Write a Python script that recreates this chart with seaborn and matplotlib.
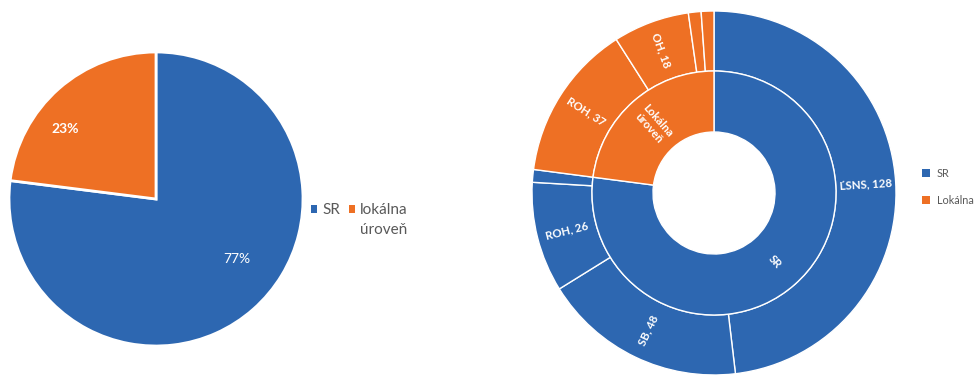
import matplotlib
matplotlib.use("Agg")
import matplotlib.pyplot as plt
from matplotlib.patches import Patch
import seaborn as sns
import numpy as np

# Share by level (percent)
level_names = ["SR", "lokálna\núroveň"]
level_share = [77, 23]

# Sunburst: inner ring = level, outer ring = party breakdown
parent_names = ["SR", "Lokálna\núroveň"]
legend_names = ["SR", "Lokálna"]
child_names = ["ĽSNS", "SB", "ROH", "", "ROH", "OH", "", ""]
child_values = [128, 48, 26, 3, 37, 18, 3, 3]
child_parent = [0, 0, 0, 0, 1, 1, 1, 1]

sns.set_theme(style="white")
plt.rcParams["font.family"] = ["Lato", "DejaVu Sans"]

palette = sns.color_palette(["#2D67B1", "#EE7024"])
text_grey = "#595959"

fig = plt.figure(figsize=(9.79, 3.75), dpi=100)
ax = fig.add_axes([0, 0, 1, 1])

# ---- left pie ----
pie_center = (156, 176)
pie_radius = 147
wedges_l, _ = ax.pie(level_share, colors=palette, startangle=90, counterclock=False,
                     center=pie_center, radius=pie_radius,
                     wedgeprops=dict(edgecolor="white", linewidth=2))
pct_offsets = [(81, -60), (-91, 70)]
pct_weights = ["normal", "bold"]
total_share = sum(level_share)
for v, off, w in zip(level_share, pct_offsets, pct_weights):
    ax.text(pie_center[0] + off[0], pie_center[1] + off[1], f"{v / total_share:.0%}",
            ha="center", va="center", color="white", fontsize=10, fontweight=w)

# legend: first line of each label in the legend, the rest wrapped beneath it
first_lines = [n.split("\n")[0] for n in level_names]
handles_l = [Patch(facecolor=w.get_facecolor(), edgecolor="none") for w in wedges_l]
leg1 = ax.legend(handles_l, first_lines, loc="center left", ncol=2,
                 bbox_to_anchor=(311, 165), bbox_transform=ax.transData,
                 frameon=False, fontsize=11, handlelength=0.42, handleheight=0.42,
                 handletextpad=0.33, columnspacing=0.55, borderpad=0, borderaxespad=0,
                 labelcolor=text_grey)
ax.add_artist(leg1)
for name, txt in zip(level_names, leg1.get_texts()):
    rest = name.split("\n")[1:]
    if rest:
        ax.annotate("\n".join(rest), xy=(0, 0), xycoords=txt, xytext=(0, -12.3),
                    textcoords="offset points", va="baseline", ha="left",
                    fontsize=11, color=text_grey, zorder=10)

# ---- right sunburst ----
sun_center = (714, 182)
outer_r, ring_w, hole_r = 182, 60, 61
inner_r = outer_r - ring_w
parent_values = np.bincount(child_parent, weights=child_values)
child_colors = [palette[p] for p in child_parent]
child_labels = [f"{n}, {v}" if n else "" for n, v in zip(child_names, child_values)]

_, out_txt = ax.pie(child_values, colors=child_colors, startangle=90, counterclock=False,
                    center=sun_center, radius=outer_r, labels=child_labels,
                    labeldistance=(outer_r - ring_w / 2) / outer_r,
                    wedgeprops=dict(width=ring_w, edgecolor="white", linewidth=1),
                    textprops=dict(color="white", fontsize=8.2, fontweight="bold"))
wedges_in, in_txt = ax.pie(parent_values, colors=palette, startangle=90, counterclock=False,
                           center=sun_center, radius=inner_r, labels=parent_names,
                           labeldistance=(inner_r + hole_r) / 2 / inner_r,
                           wedgeprops=dict(width=inner_r - hole_r, edgecolor="white", linewidth=1),
                           textprops=dict(color="white", fontsize=8.2, fontweight="bold",
                                          linespacing=1.1))
# radial labels, flipped on the left half so they stay readable
for t in list(out_txt) + list(in_txt):
    x, y = t.get_position()
    dx, dy = x - sun_center[0], y - sun_center[1]
    ang = np.degrees(np.arctan2(dy, dx))
    t.set_rotation(ang if dx >= 0 else ang + 180)
    t.set_rotation_mode("anchor")
    t.set_horizontalalignment("center")
    t.set_verticalalignment("center")
    t.set_multialignment("center")

handles_r = [Patch(facecolor=w.get_facecolor(), edgecolor="none") for w in wedges_in]
ax.legend(handles_r, legend_names, loc="upper left",
          bbox_to_anchor=(922, 207), bbox_transform=ax.transData,
          frameon=False, fontsize=7.8, handlelength=0.75, handleheight=0.75,
          handletextpad=0.6, labelspacing=1.45, borderpad=0, borderaxespad=0,
          labelcolor=text_grey)

ax.set_xlim(0, 979)
ax.set_ylim(0, 375)
ax.set_aspect("equal")
ax.axis("off")

fig.savefig("out.png", dpi=100, facecolor="white")
